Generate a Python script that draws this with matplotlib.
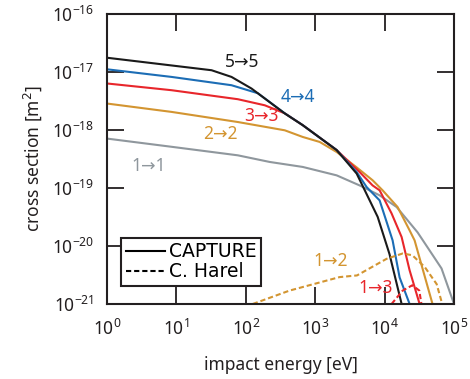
import matplotlib
matplotlib.use('Agg')
import matplotlib.pyplot as plt

# impact energy [eV] and cross section [m^2]
# CAPTURE curves
e_55 = [1, 32.1, 62.2, 120.8, 364, 661, 2037, 3954, 6081, 7943, 11749, 17579]
s_55 = [1.74e-17, 1.06e-17, 8.13e-18, 5.13e-18, 1.91e-18, 1.20e-18, 4.47e-19,
        1.76e-19, 6.10e-20, 3.16e-20, 7.24e-21, 1.0e-21]

e_44 = [1, 8.53, 62.2, 148.9, 364, 661, 2037, 3954, 5508, 8472, 13032, 16444, 22909]
s_44 = [1.10e-17, 8.13e-18, 5.85e-18, 4.26e-18, 1.92e-18, 1.20e-18, 4.47e-19,
        1.87e-19, 1.03e-19, 6.08e-20, 1.245e-20, 2.86e-21, 1.0e-21]

e_33 = [1, 8.53, 76.7, 187.5, 364, 661, 2037, 4365, 6714, 8472, 12589, 17579,
        22909, 31916]
s_33 = [6.27e-18, 4.80e-18, 3.36e-18, 2.64e-18, 1.92e-18, 1.20e-18, 4.47e-19,
        1.87e-19, 1.10e-19, 9.06e-20, 3.63e-20, 1.42e-20, 3.80e-21, 1.0e-21]

e_22 = [1, 8.53, 76.7, 364, 661, 1161, 2037, 3954, 6714, 9354, 15382, 22909,
        27040, 48978]
s_22 = [2.83e-18, 2.03e-18, 1.36e-18, 9.79e-19, 7.52e-19, 6.17e-19, 4.14e-19,
        2.25e-19, 1.35e-19, 9.06e-20, 4.67e-20, 1.85e-20, 1.245e-20, 1.0e-21]

e_11 = [1, 8.53, 76.7, 221, 661, 2037, 4365, 8472, 14894, 29854, 66069, 100000]
s_11 = [7.05e-19, 5.09e-19, 3.63e-19, 2.79e-19, 2.29e-19, 1.64e-19, 1.10e-19,
        7.43e-20, 4.67e-20, 1.71e-20, 4.09e-21, 1.0e-21]

# C. Harel
e_12 = [126, 427, 2240, 4000, 10700, 18200, 25100, 38000, 56200, 67600]
s_12 = [1.0e-21, 1.7e-21, 2.9e-21, 3.1e-21, 6.0e-21, 7.4e-21, 6.9e-21, 4.3e-21,
        2.2e-21, 1.0e-21]

e_13 = [12600, 18200, 25100, 31600, 33900]
s_13 = [1.0e-21, 1.7e-21, 2.1e-21, 1.7e-21, 1.0e-21]

# transition labels: text, energy, cross section
lab_txt = ['5→5', '4→4', '3→3', '2→2', '1→1', '1→2', '1→3']
lab_e = [88, 569, 170, 42.3, 3.95, 1644, 7413]
lab_s = [1.46e-17, 3.63e-18, 1.71e-18, 8.35e-19, 2.35e-19, 5.41e-21, 1.85e-21]

c_black = '#1a1a1a'
c_blue = '#1c6db5'
c_red = '#e8262b'
c_orange = '#d39531'
c_gray = '#8f979d'
lab_col = [c_black, c_blue, c_red, c_orange, c_gray, c_orange, c_red]

ink = '#231f20'
plt.rcParams['font.family'] = ['Noto Sans', 'DejaVu Sans']
fig = plt.figure(figsize=(4.7, 3.79), dpi=100)
ax = fig.add_axes([0.2277, 0.198, 0.7383, 0.766])

lw = 1.5
dash = (2.5, 1.4)
ax.plot(e_11, s_11, color=c_gray, lw=lw)
ax.plot(e_22, s_22, color=c_orange, lw=lw)
ax.plot(e_33, s_33, color=c_red, lw=lw)
ax.plot(e_44, s_44, color=c_blue, lw=lw)
ax.plot(e_55, s_55, color=c_black, lw=lw)
ax.plot(e_12, s_12, color=c_orange, lw=lw, dashes=dash)
ax.plot(e_13, s_13, color=c_red, lw=lw, dashes=dash)

ax.set_xscale('log')
ax.set_yscale('log')
ax.set_xlim(1, 1e5)
ax.set_ylim(1e-21, 1e-16)
ax.set_xticks([1, 10, 100, 1e3, 1e4, 1e5])
ax.set_yticks([1e-21, 1e-20, 1e-19, 1e-18, 1e-17, 1e-16])
ax.minorticks_off()
ax.tick_params(which='major', direction='in', length=12, width=1.3,
               top=True, right=True, labelsize=12.5, colors=ink)
ax.tick_params(axis='x', pad=11)
ax.tick_params(axis='y', pad=9)
for sp in ax.spines.values():
    sp.set_linewidth(1.5)
    sp.set_color(ink)

ax.set_xlabel('impact energy [eV]', fontsize=12.5, labelpad=12, color=ink)
ax.set_ylabel('cross section [m$^2$]', fontsize=12.5, labelpad=6, color=ink)

for t, x, y, c in zip(lab_txt, lab_e, lab_s, lab_col):
    ax.text(x, y, t, color=c, fontsize=12.5, ha='center', va='center')

ax.plot([], [], color='black', lw=lw, label='CAPTURE')
ax.plot([], [], color='black', lw=lw, dashes=dash, label='C. Harel')
leg = ax.legend(loc='lower left', bbox_to_anchor=(0.040, 0.062),
                prop={'family': 'DejaVu Sans', 'size': 13.5},
                fancybox=False, framealpha=1, edgecolor=ink,
                handlelength=2.1, borderpad=0.25, labelspacing=0.05,
                handletextpad=0.2, borderaxespad=0)
leg.get_frame().set_linewidth(1.5)

fig.savefig('out.png', dpi=100)
